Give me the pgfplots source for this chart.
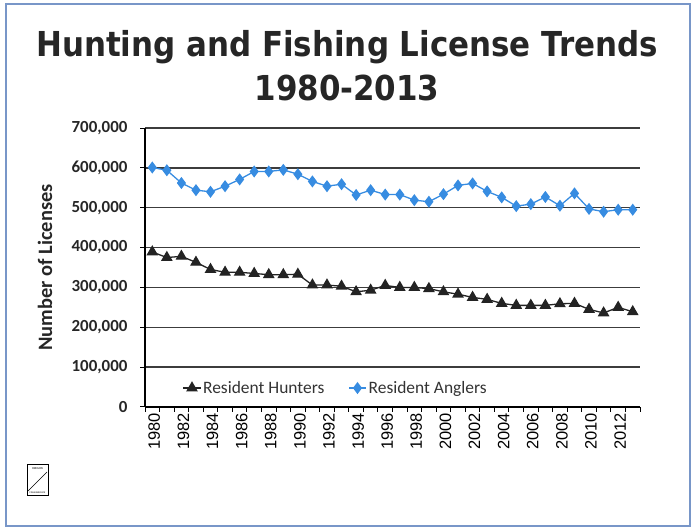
\documentclass[border=0pt]{standalone}
\usepackage{fontspec}
\setmainfont{Carlito}
\newfontfamily\titlefont{DejaVu Sans Condensed}
\newfontfamily\arialfont{Liberation Sans}
\usepackage{pgfplots}
\pgfplotsset{compat=1.18}
\definecolor{angl}{RGB}{55,140,225}
\definecolor{hunt}{RGB}{35,35,35}
\definecolor{gridc}{RGB}{60,60,60}
\definecolor{framec}{RGB}{120,150,200}
\begin{document}
\begin{tikzpicture}
\path[use as bounding box] (0,0) rectangle (693bp,529bp);
\draw[framec, line width=1.2bp] (6bp,3bp) rectangle (690bp,525bp);
% title
\node[font=\titlefont\bfseries\fontsize{34.5}{38}\selectfont, text=black!85, align=center] at (347bp,482bp) {Hunting and Fishing License Trends};
\node[font=\titlefont\bfseries\fontsize{34.5}{38}\selectfont, text=black!85, align=center] at (347bp,441bp) {1980-2013};
% logo
\draw[line width=1bp] (27bp,33bp) rectangle (48bp,64bp);
\node[font=\fontsize{3}{3}\selectfont] at (37.5bp,60.5bp) {OREGON};
\node[font=\fontsize{2.5}{3}\selectfont] at (37.5bp,36bp) {FISH\&WILDLIFE};
\draw[line width=0.6bp] (28bp,38bp) -- (47bp,57bp);
\begin{axis}[
  at={(145bp,122bp)}, anchor=south west,
  scale only axis, width=495bp, height=279bp,
  xmin=1979.5, xmax=2013.5, ymin=0, ymax=700000,
  axis x line*=bottom, axis y line*=left,
  axis line style={black, line width=1.2bp},
  xtick={1980,1982,...,2012},
  xticklabels={1980,1982,1984,1986,1988,1990,1992,1994,1996,1998,2000,2002,2004,2006,2008,2010,2012},
  minor xtick={1979.5,1980.5,...,2013.5},
  major x tick style={draw=none},
  minor x tick style={black, line width=1bp},
  minor tick length=5bp, major tick length=5bp,
  tick align=outside,
  xticklabel style={rotate=90, anchor=east, font=\arialfont\fontsize{16.5}{16.5}\selectfont, inner sep=1bp, yshift=-2bp},
  ytick={0,100000,...,700000},
  scaled y ticks=false,
  /pgf/number format/fixed, /pgf/number format/1000 sep={,}, /pgf/number format/assume math mode=true,
  yticklabel style={font=\bfseries\fontsize{17}{17}\selectfont, text=black!85, xshift=-9bp},
  ytick style={black, line width=1bp},
  ymajorgrids, grid style={gridc, line width=1.3bp},
  ylabel={Number of Licenses},
  every axis y label/.style={at={(axis description cs:-0.202,0.5)}, rotate=90, anchor=center},
  ylabel style={font=\bfseries\fontsize{20.5}{20.5}\selectfont, text=black!85},
  legend style={at={(0.07,0.068)}, anchor=west, draw=none, fill=none,
    legend columns=2, font=\fontsize{17.5}{17.5}\selectfont, text=black!80,
    /tikz/every even column/.append style={column sep=22bp}},
  legend cell align=left,
]
\addplot[hunt, line width=1.3bp, mark=triangle*, mark size=5.5bp, mark options={fill=hunt}] coordinates {
(1980,389000)(1981,375000)(1982,378000)(1983,363000)(1984,345000)(1985,338000)(1986,338000)(1987,335000)(1988,332000)(1989,332000)(1990,333000)(1991,306000)(1992,306000)(1993,303000)(1994,289000)(1995,293000)(1996,305000)(1997,300000)(1998,300000)(1999,297000)(2000,289000)(2001,283000)(2002,275000)(2003,270000)(2004,260000)(2005,255000)(2006,255000)(2007,255000)(2008,259000)(2009,260000)(2010,245000)(2011,236000)(2012,250000)(2013,239000)};
\addlegendentry{Resident Hunters}
\addplot[angl, line width=1.3bp, mark=diamond*, mark size=5bp, mark options={fill=angl}] coordinates {
(1980,601000)(1981,594000)(1982,562000)(1983,544000)(1984,540000)(1985,554000)(1986,571000)(1987,591000)(1988,591000)(1989,595000)(1990,584000)(1991,566000)(1992,554000)(1993,559000)(1994,532000)(1995,544000)(1996,533000)(1997,533000)(1998,519000)(1999,515000)(2000,534000)(2001,556000)(2002,561000)(2003,541000)(2004,526000)(2005,504000)(2006,509000)(2007,527000)(2008,505000)(2009,536000)(2010,497000)(2011,490000)(2012,495000)(2013,495000)};
\addlegendentry{Resident Anglers}
\end{axis}
\end{tikzpicture}
\end{document}
